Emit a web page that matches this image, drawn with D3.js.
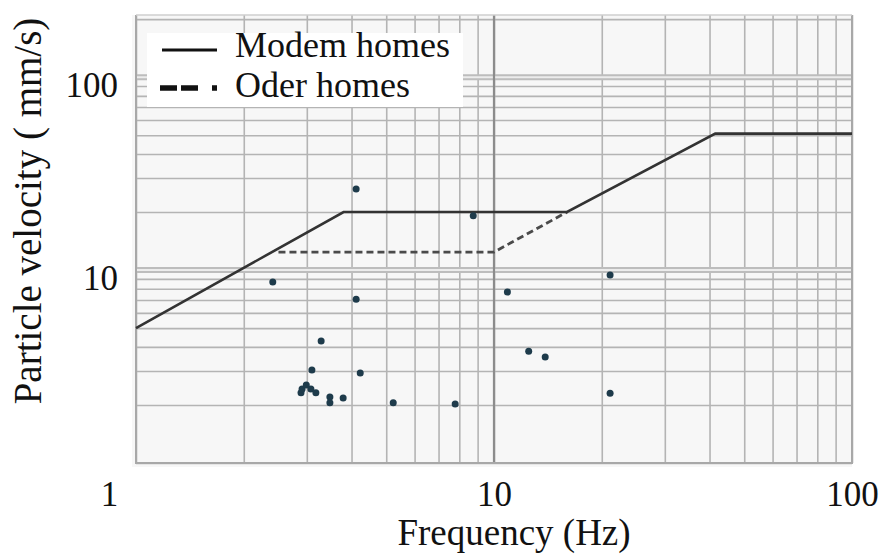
<!DOCTYPE html>
<html>
<head>
<meta charset="utf-8">
<script src="https://cdn.jsdelivr.net/npm/d3@7"></script>
<style>
    body { margin: 0; background: #fff; }
    svg text { font-family: "Liberation Serif", "Times New Roman", serif; fill: #111; }
</style>
</head>
<body>
<svg></svg>
<script>
// values
const freqTicks = [1, 10, 100];
const velTicks = [10, 100];
const freqDomain = [1, 100];
const velDomain = [1, 210];

const modernFreq = [1, 3.8, 16, 41.5, 100];
const modernVel = [5, 20, 20, 51, 51];
const olderFreq = [2.5, 10, 16];
const olderVel = [12.4, 12.4, 20];

const pointFreq = [2.41, 4.12, 4.12, 3.29, 3.10, 4.23, 2.89, 2.91, 2.99, 3.08, 3.18,
                   3.48, 3.48, 3.79, 5.23, 7.79, 8.75, 10.9, 12.5, 13.9, 21.1, 21.1];
const pointVel = [8.67, 26.3, 7.07, 4.29, 3.03, 2.93, 2.31, 2.42, 2.54, 2.42, 2.31,
                  2.2, 2.05, 2.17, 2.05, 2.02, 19.1, 7.69, 3.8, 3.54, 9.42, 2.3];

const legendNames = ["Modem homes", "Oder homes"];

const width = 886;
const height = 554;
const margin = {left: 136, top: 15, right: 34, bottom: 91};
const plotW = width - margin.left - margin.right;
const plotH = height - margin.top - margin.bottom;

let svg = d3.select("svg").attr("width", width).attr("height", height);

let x = d3.scaleLog().domain(freqDomain).range([0, plotW]);
let y = d3.scaleLog().domain(velDomain).range([plotH, 0]);

let g = svg.append("g").attr("transform", `translate(${margin.left}, ${margin.top})`);

g.append("rect")
    .attr("x", -4).attr("y", 0)
    .attr("width", plotW + 4).attr("height", plotH + 4)
    .attr("fill", "#f7f7f7");

// minor grid
let gridX = g.append("g")
    .call(d3.axisBottom(x).ticks(10).tickSize(plotH).tickFormat(""));
gridX.selectAll("line").attr("y1", 0).attr("y2", plotH);

let gridY = g.append("g")
    .call(d3.axisLeft(y).ticks(10).tickSize(-plotW).tickFormat(""));

g.selectAll(".domain").remove();
g.selectAll(".tick line").attr("stroke", "#b4b4b4").attr("stroke-width", 1.6);

// decade lines look doubled in the scan
velTicks.forEach(v => {
    g.append("line")
        .attr("x1", 0).attr("x2", plotW)
        .attr("y1", y(v)).attr("y2", y(v))
        .attr("stroke", "#bdbdbd").attr("stroke-width", 6);
    g.append("line")
        .attr("x1", 0).attr("x2", plotW)
        .attr("y1", y(v)).attr("y2", y(v))
        .attr("stroke", "#ececec").attr("stroke-width", 2);
});
g.append("line")
    .attr("x1", x(10)).attr("x2", x(10))
    .attr("y1", 0).attr("y2", plotH)
    .attr("stroke", "#8c8c8c").attr("stroke-width", 2.2);

// frame
g.append("path")
    .attr("d", `M0,0V${plotH}H${plotW}V0`)
    .attr("fill", "none").attr("stroke", "#a8a8a8").attr("stroke-width", 2);
g.append("line")
    .attr("x1", 0).attr("x2", plotW).attr("y1", 0).attr("y2", 0)
    .attr("stroke", "#cfcfcf").attr("stroke-width", 1.5);

// criteria lines
let line = d3.line().x(d => x(d[0])).y(d => y(d[1]));

g.append("path")
    .datum(olderFreq.map((f, i) => [f, olderVel[i]]))
    .attr("d", line)
    .attr("fill", "none").attr("stroke", "#4a4a4a")
    .attr("stroke-width", 2.8).attr("stroke-dasharray", "7,4");

g.append("path")
    .datum(modernFreq.map((f, i) => [f, modernVel[i]]))
    .attr("d", line)
    .attr("fill", "none").attr("stroke", "#333")
    .attr("stroke-width", 2.6);

// measured points
g.selectAll(".pt")
    .data(pointFreq.map((f, i) => [f, pointVel[i]]))
    .enter().append("circle").attr("class", "pt")
    .attr("cx", d => x(d[0]))
    .attr("cy", d => y(d[1]))
    .attr("r", 3.5)
    .attr("fill", "#1e3b4b");

// tick labels
let axX = svg.append("g")
    .attr("transform", `translate(${margin.left}, ${margin.top + plotH})`)
    .call(d3.axisBottom(x).tickValues(freqTicks).tickSize(0).tickPadding(18).tickFormat(d3.format("d")));
axX.select(".domain").remove();
axX.selectAll("text").attr("font-size", 35).attr("fill", "#111");
axX.selectAll("text").filter(d => d === 1).attr("dx", -27);

let axY = svg.append("g")
    .attr("transform", `translate(${margin.left}, ${margin.top})`)
    .call(d3.axisLeft(y).tickValues(velTicks).tickSize(0).tickPadding(18).tickFormat(d3.format("d")));
axY.select(".domain").remove();
axY.selectAll("text").attr("font-size", 35).attr("fill", "#111").attr("dy", "0.55em");

// axis titles
svg.append("text")
    .attr("x", 514)
    .attr("y", 545)
    .attr("text-anchor", "middle")
    .attr("font-size", 37)
    .text("Frequency (Hz)");

svg.append("text")
    .attr("transform", `translate(41, 211) rotate(-90)`)
    .attr("text-anchor", "middle")
    .attr("font-size", 39)
    .text("Particle velocity ( mm/s)");

// legend
let legend = svg.append("g").attr("transform", "translate(147, 33)");
legend.append("rect").attr("width", 316).attr("height", 74).attr("fill", "#fff");
legend.append("line")
    .attr("x1", 15).attr("x2", 70).attr("y1", 17).attr("y2", 17)
    .attr("stroke", "#111").attr("stroke-width", 3);
legend.append("line")
    .attr("x1", 13).attr("x2", 70).attr("y1", 55).attr("y2", 55)
    .attr("stroke", "#111").attr("stroke-width", 5.5)
    .attr("stroke-dasharray", "17,4,17,14,5,100");
legend.selectAll(".lbl")
    .data(legendNames)
    .enter().append("text").attr("class", "lbl")
    .attr("x", 88)
    .attr("y", (d, i) => 24 + i * 40)
    .attr("font-size", 36)
    .text(d => d);
</script>
</body>
</html>
